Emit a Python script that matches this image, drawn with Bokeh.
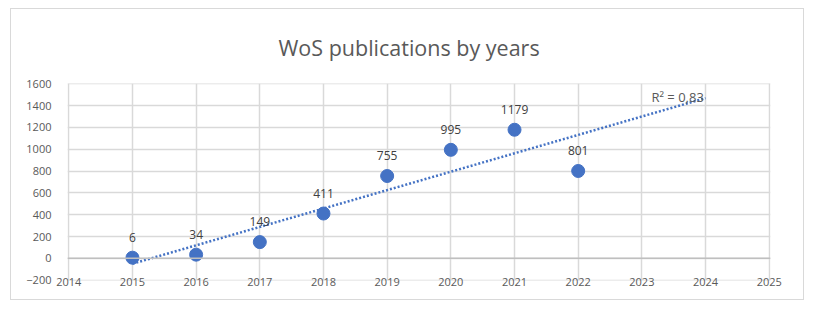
import numpy as np
from bokeh.plotting import figure
from bokeh.models import ColumnDataSource, Range1d, FixedTicker, Label, Span
from bokeh.embed import file_html
from bokeh.resources import INLINE

years = [2015, 2016, 2017, 2018, 2019, 2020, 2021, 2022]
publications = [6, 34, 149, 411, 755, 995, 1179, 801]
labels = ["6", "34", "149", "411", "755", "995", "1179", "801"]
x_ticks = list(range(2014, 2026))
y_ticks = list(range(-200, 1601, 200))
title_text = "WoS publications by years"
r2_text = "R² = 0,83"

FONT = "Open Sans"
BLUE = "#4472c4"
GRID = "#d9d9d9"
TXT = "#595959"

p = figure(width=794, height=292, output_backend="svg", toolbar_location=None,
           x_range=Range1d(2013.98, 2025.02), y_range=Range1d(-203, 1603),
           min_border_left=56, min_border_right=35, min_border_top=73, min_border_bottom=21,
           margin=(8, 0, 0, 10), styles={"border": "1px solid #d9d9d9"},
           background_fill_color="white", border_fill_color="white")
p.outline_line_color = None

p.title.text = title_text
p.title.align = "left"
p.title.offset = 211
p.title.text_font = FONT
p.title.text_font_size = "21.5px"
p.title.text_font_style = "normal"
p.title.text_color = TXT
p.title.standoff = 43

for ax in (p.xaxis, p.yaxis):
    ax.axis_line_color = None
    ax.major_tick_line_color = None
    ax.minor_tick_line_color = None
    ax.major_label_text_font = FONT
    ax.major_label_text_font_size = "11px"
    ax.major_label_text_color = TXT
p.xaxis.ticker = FixedTicker(ticks=x_ticks)
p.yaxis.ticker = FixedTicker(ticks=y_ticks)
p.xaxis.major_label_standoff = -9
p.yaxis.major_label_standoff = 10

p.xgrid.ticker = FixedTicker(ticks=x_ticks)
p.ygrid.ticker = FixedTicker(ticks=y_ticks)
for g in (p.xgrid, p.ygrid):
    g.grid_line_color = GRID
    g.grid_line_width = 1.5

p.add_layout(Span(location=0, dimension="width", line_color="#bfbfbf", line_width=1.5))

# linear trend line (Excel-style, forecast forward to 2024)
coef = np.polyfit(years, publications, 1)
tx = [years[0], 2024]
ty = [coef[0] * v + coef[1] for v in tx]
p.line(tx, ty, line_color=BLUE, line_width=2.5, line_dash="2 2")

src = ColumnDataSource(dict(x=years, y=publications, t=labels))
p.scatter("x", "y", source=src, size=13, color=BLUE)
p.text("x", "y", text="t", source=src, text_align="center", text_baseline="bottom",
       y_offset=-16, text_font_size="12px", text_color="#404040",
       text_font={"value": FONT})

p.add_layout(Label(x=2023.15, y=1480, text=r2_text, text_baseline="middle",
                   text_font=FONT, text_font_size="13px", text_color=TXT))

open("out.html", "w").write(file_html(p, INLINE))
